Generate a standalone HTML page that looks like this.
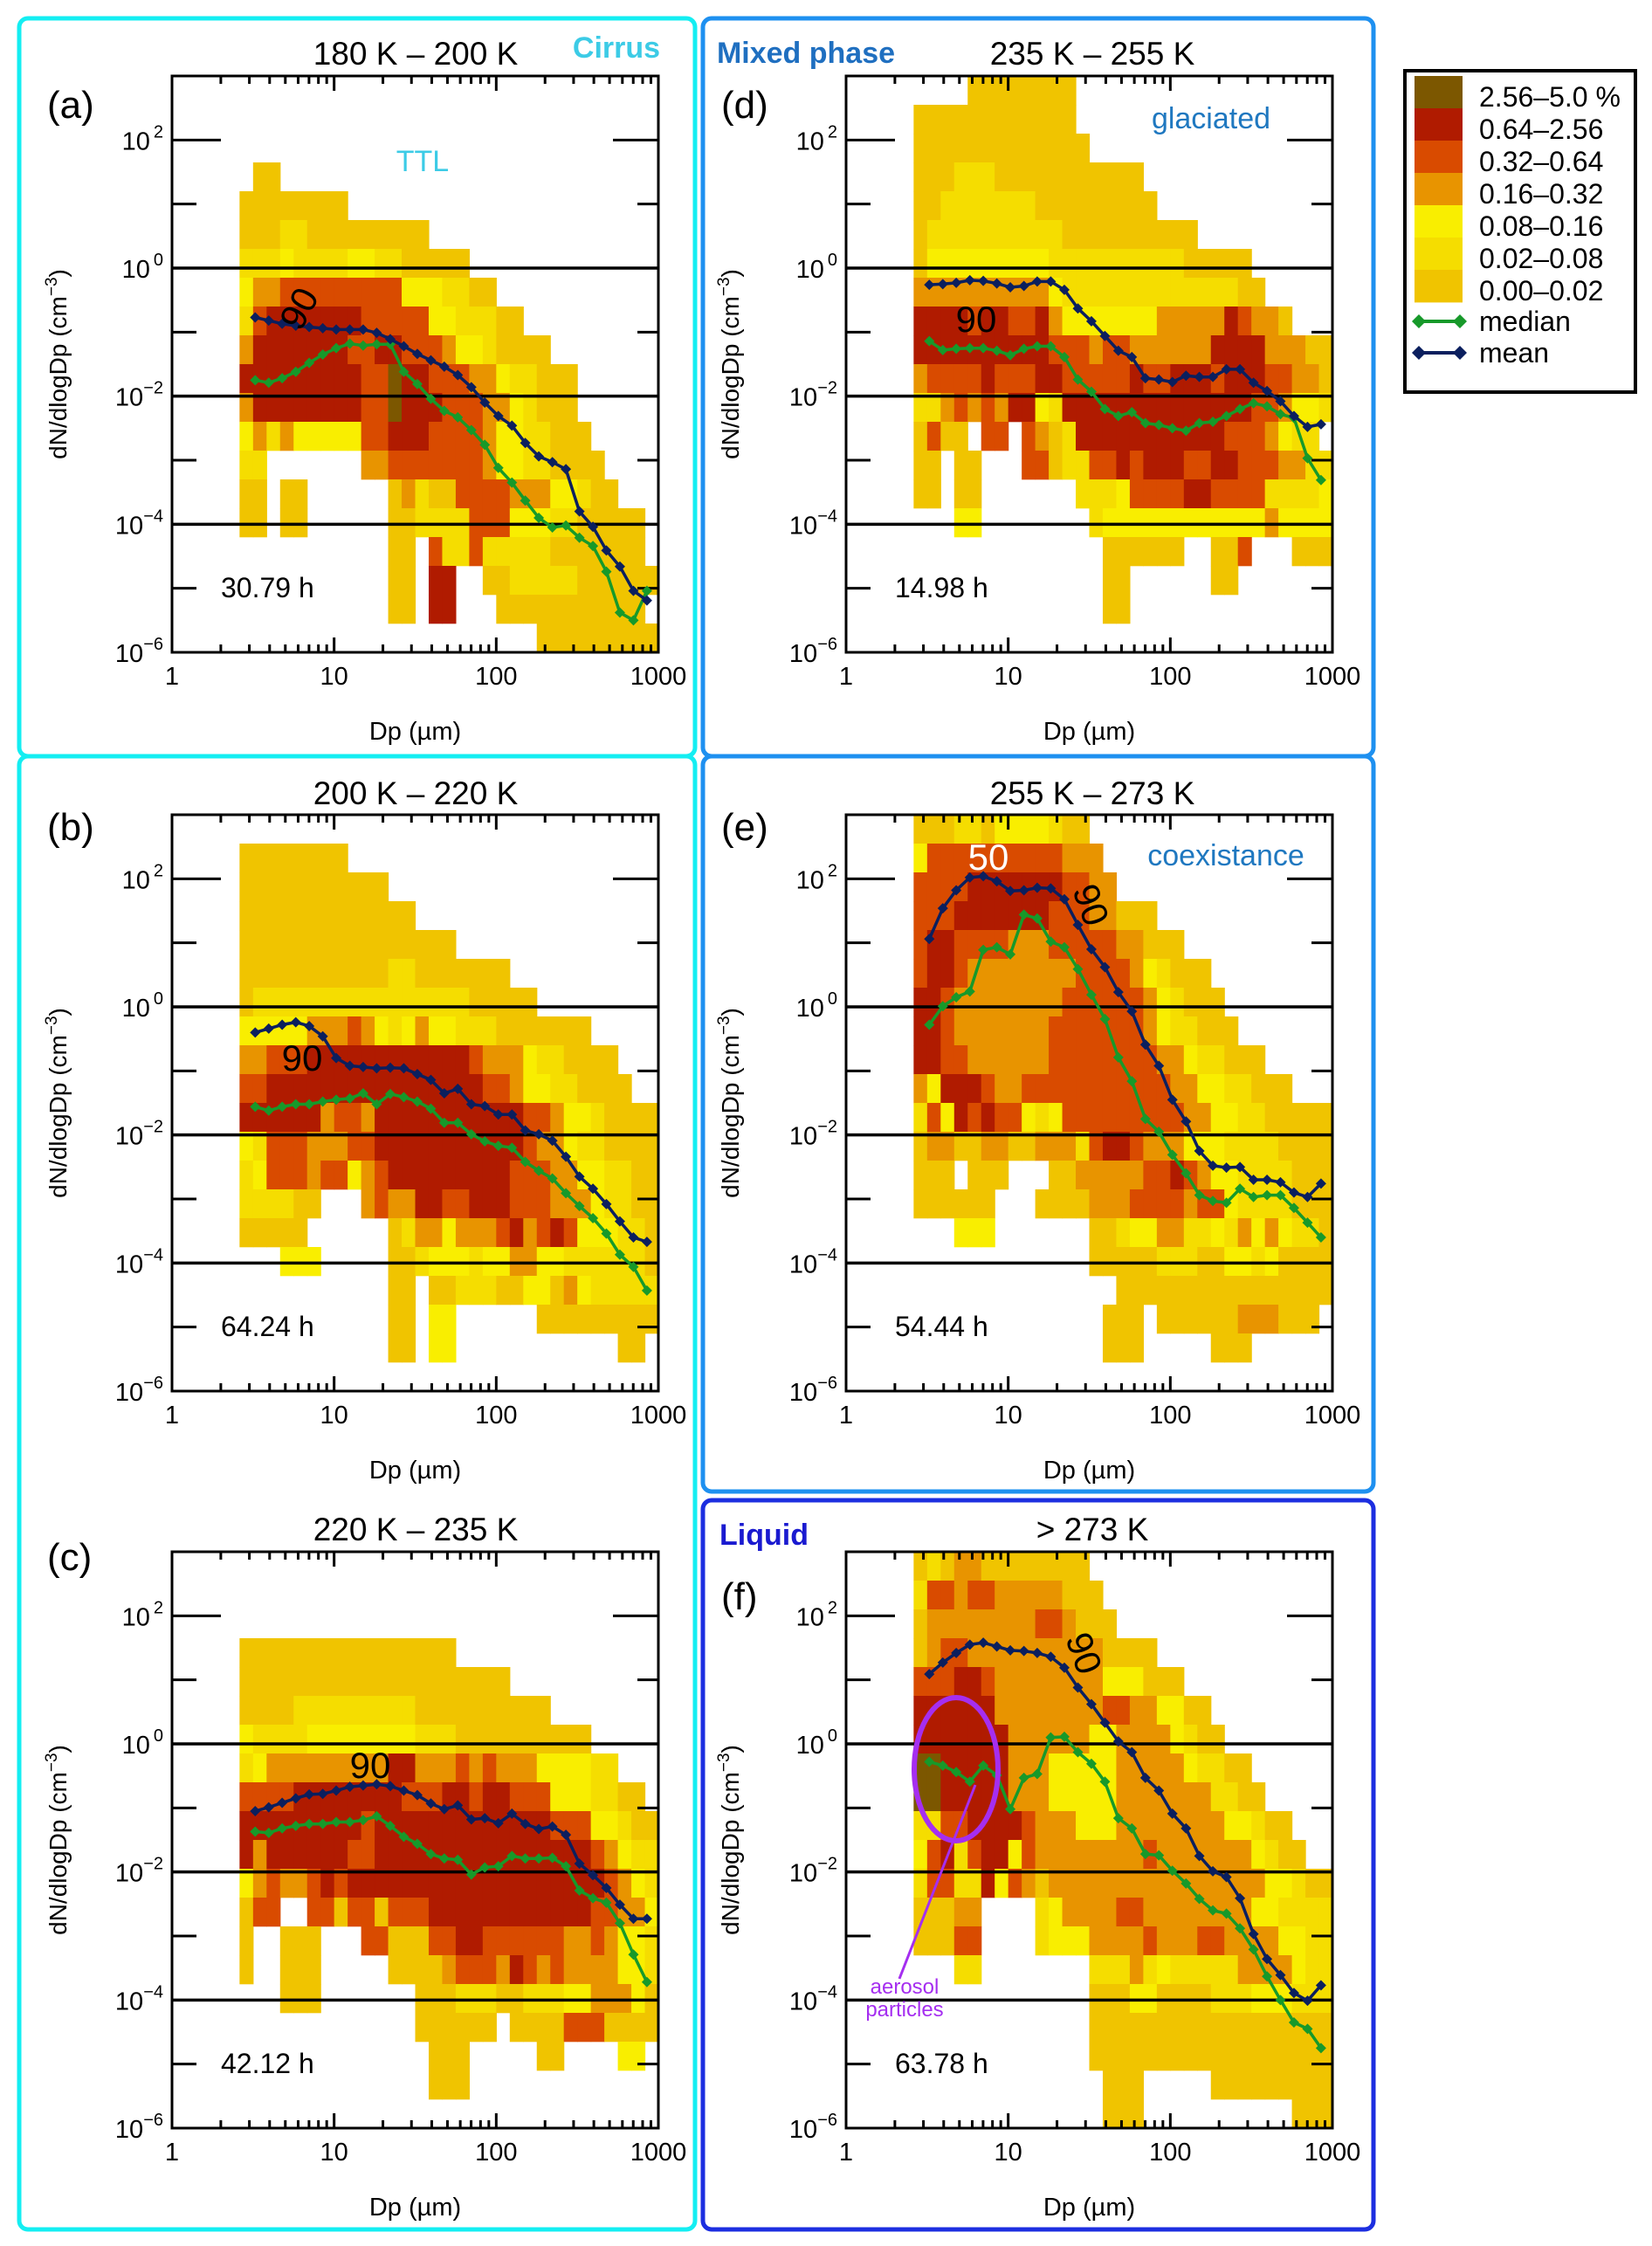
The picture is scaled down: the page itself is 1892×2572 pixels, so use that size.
<!DOCTYPE html>
<html><head><meta charset="utf-8"><style>
html,body{margin:0;padding:0;background:#fff;}
svg{display:block;font-family:"Liberation Sans",sans-serif;}
</style></head><body>
<svg id="fig" xmlns="http://www.w3.org/2000/svg" width="1892" height="2572" viewBox="0 0 1892 2572">
<rect x="0" y="0" width="1892" height="2572" fill="#fff"/>
<rect x="22" y="21" width="774" height="845" rx="10" fill="none" stroke="#14eef2" stroke-width="5"/>
<rect x="22" y="866" width="774" height="1687" rx="10" fill="none" stroke="#14eef2" stroke-width="5"/>
<rect x="805" y="21" width="768" height="845" rx="10" fill="none" stroke="#1e90f0" stroke-width="5"/>
<rect x="805" y="866" width="768" height="842" rx="10" fill="none" stroke="#1e90f0" stroke-width="5"/>
<rect x="805" y="1718" width="768" height="835" rx="10" fill="none" stroke="#1c2ee0" stroke-width="5"/>
<g id="plots"></g>
<g font-size="37" text-anchor="middle" fill="#000">
<text x="476" y="74">180 K – 200 K</text>
<text x="476" y="921">200 K – 220 K</text>
<text x="476" y="1764">220 K – 235 K</text>
<text x="1251" y="74">235 K – 255 K</text>
<text x="1251" y="921">255 K – 273 K</text>
<text x="1251" y="1764">&gt; 273 K</text>
</g>
<text x="706" y="66" font-size="34" font-weight="bold" fill="#3ccbe6" text-anchor="middle">Cirrus</text>
<text x="923" y="72" font-size="34" font-weight="bold" fill="#1f6fc0" text-anchor="middle">Mixed phase</text>
<text x="875" y="1769" font-size="34" font-weight="bold" fill="#1a1ad0" text-anchor="middle">Liquid</text>
<text x="484" y="196" font-size="34" fill="#3ccbe6" text-anchor="middle">TTL</text>
<text x="1387" y="147" font-size="34" fill="#1f78c0" text-anchor="middle">glaciated</text>
<text x="1404" y="991" font-size="34" fill="#1f78c0" text-anchor="middle">coexistance</text>
<g font-size="44" fill="#000">
<text x="54" y="135">(a)</text>
<text x="54" y="962">(b)</text>
<text x="54" y="1798">(c)</text>
<text x="826" y="135">(d)</text>
<text x="826" y="962">(e)</text>
<text x="826" y="1843">(f)</text>
</g>
<g font-size="42" fill="#000">
<text x="342" y="368" transform="rotate(-62 342 353)" text-anchor="middle">90</text>
<text x="346" y="1226" text-anchor="middle">90</text>
<text x="424" y="2036" text-anchor="middle">90</text>
<text x="1118" y="380" text-anchor="middle">90</text>
<text x="1132" y="996" fill="#fff" text-anchor="middle">50</text>
<text x="1250" y="1051" transform="rotate(70 1250 1036)" text-anchor="middle">90</text>
<text x="1242" y="1908" transform="rotate(70 1242 1893)" text-anchor="middle">90</text>
</g>
<ellipse cx="1095" cy="2026" rx="48" ry="82" fill="none" stroke="#a52ef0" stroke-width="6"/>
<line x1="1117" y1="2044" x2="1030" y2="2266" stroke="#a52ef0" stroke-width="3"/>
<text x="1036" y="2283" font-size="24" fill="#a52ef0" text-anchor="middle">aerosol</text>
<text x="1036" y="2309" font-size="24" fill="#a52ef0" text-anchor="middle">particles</text>
<g id="legend">
<rect x="1609" y="81" width="264" height="368" fill="#fff" stroke="#000" stroke-width="4"/>
</g>
</svg>
<script>
// ---------------- DATA ----------------
const heatLabels = ["0.00–0.02","0.02–0.08","0.08–0.16","0.16–0.32","0.32–0.64","0.64–2.56","2.56–5.0 %"];
const heatColors = ["#f0c400","#f5dd00","#f9ee00","#e89400","#d94b00","#b01b00","#7c5700"];
// line points: Dp (um)
const dpPoints = [3.26,3.95,4.78,5.80,7.02,8.51,10.3,12.5,15.1,18.3,22.2,26.9,32.6,39.5,47.8,57.9,70.2,85.0,103,125,151,183,222,269,326,395,478,579,702,850];
// log10 of dN/dlogDp
const meanA = [-0.77,-0.82,-0.87,-0.90,-0.92,-0.94,-0.96,-0.96,-0.96,-1.01,-1.11,-1.22,-1.34,-1.44,-1.54,-1.67,-1.86,-2.10,-2.31,-2.46,-2.73,-2.94,-3.03,-3.14,-3.80,-4.04,-4.41,-4.66,-5.04,-5.19];
const medianA = [-1.75,-1.79,-1.72,-1.62,-1.48,-1.35,-1.25,-1.18,-1.21,-1.19,-1.19,-1.62,-1.81,-2.04,-2.23,-2.33,-2.53,-2.76,-3.12,-3.35,-3.63,-3.90,-4.05,-4.02,-4.21,-4.34,-4.74,-5.38,-5.50,-5.04];
const meanB = [-0.40,-0.34,-0.28,-0.24,-0.30,-0.46,-0.80,-0.92,-0.94,-0.96,-0.95,-0.96,-1.05,-1.14,-1.35,-1.28,-1.52,-1.55,-1.68,-1.68,-1.93,-1.99,-2.09,-2.34,-2.65,-2.84,-3.08,-3.35,-3.60,-3.67];
const medianB = [-1.56,-1.62,-1.56,-1.52,-1.52,-1.48,-1.45,-1.43,-1.35,-1.52,-1.36,-1.41,-1.48,-1.59,-1.81,-1.81,-1.99,-2.10,-2.17,-2.20,-2.42,-2.56,-2.68,-2.91,-3.11,-3.30,-3.54,-3.87,-4.06,-4.43];
const meanC = [-1.05,-0.99,-0.92,-0.85,-0.79,-0.78,-0.73,-0.67,-0.65,-0.63,-0.66,-0.73,-0.80,-0.93,-1.02,-0.96,-1.18,-1.16,-1.24,-1.09,-1.25,-1.33,-1.29,-1.42,-1.87,-2.05,-2.25,-2.51,-2.73,-2.73];
const medianC = [-1.37,-1.39,-1.32,-1.28,-1.25,-1.25,-1.22,-1.22,-1.19,-1.13,-1.28,-1.45,-1.56,-1.72,-1.79,-1.81,-2.04,-1.93,-1.91,-1.75,-1.79,-1.79,-1.78,-1.91,-2.29,-2.41,-2.48,-2.80,-3.29,-3.72];
const meanD = [-0.26,-0.25,-0.23,-0.19,-0.20,-0.24,-0.30,-0.28,-0.21,-0.21,-0.34,-0.63,-0.83,-1.06,-1.29,-1.39,-1.72,-1.74,-1.78,-1.68,-1.70,-1.70,-1.58,-1.58,-1.79,-1.92,-2.08,-2.31,-2.48,-2.44];
const medianD = [-1.14,-1.28,-1.26,-1.25,-1.25,-1.29,-1.36,-1.26,-1.22,-1.22,-1.39,-1.74,-1.93,-2.20,-2.31,-2.25,-2.42,-2.45,-2.50,-2.54,-2.42,-2.40,-2.31,-2.20,-2.11,-2.16,-2.28,-2.34,-2.97,-3.31];
const meanE = [1.06,1.54,1.82,2.02,2.04,1.96,1.81,1.82,1.86,1.85,1.68,1.28,0.90,0.62,0.23,-0.07,-0.59,-0.92,-1.45,-1.79,-2.25,-2.48,-2.51,-2.50,-2.70,-2.70,-2.74,-2.90,-2.97,-2.76];
const medianE = [-0.28,0.01,0.15,0.24,0.89,0.93,0.82,1.44,1.38,1.02,0.93,0.59,0.19,-0.19,-0.79,-1.16,-1.75,-1.95,-2.31,-2.60,-2.94,-3.03,-3.06,-2.84,-2.97,-2.94,-2.94,-3.14,-3.37,-3.60];
const meanF = [1.09,1.27,1.42,1.55,1.58,1.52,1.46,1.45,1.42,1.36,1.19,0.88,0.62,0.33,0.04,-0.13,-0.53,-0.73,-1.09,-1.32,-1.75,-1.99,-2.08,-2.41,-2.97,-3.36,-3.61,-3.89,-4.01,-3.77];
const medianF = [-0.28,-0.34,-0.44,-0.59,-0.34,-0.49,-1.02,-0.53,-0.47,0.10,0.11,-0.13,-0.31,-0.59,-1.16,-1.32,-1.72,-1.74,-1.98,-2.18,-2.42,-2.60,-2.65,-2.88,-3.21,-3.63,-4.00,-4.35,-4.45,-4.75];
// heatmap bins: Dp bins of 1/12 decade starting at 10^(5/12) um; rows of 0.45 decade from 10^3 down
const dpBinFirstLog = 5/12;
const dpBinWidthLog = 1/12;
const nBinTopLog = 3;
const nBinHeightLog = 0.45;
// frequency class per cell (index into heatColors), space = no data
const heatA = ["","",""," 00","00000000","00011000000000","11121111221100000","2334444444442221100","145555555444442211100","35555555445544432210000","5555555554465544433211000","3555555554465554443321000","23132222244555444432211000","11       334444444322110000","00 00      03100444433322100","00 00      0011114442221100000","           00 4114111110000000","           00 55  0011111000000","           00 55   00000000000","                      000000000"];
const heatB = ["","00000000","00000000000","0000000000000","0000000000000000","00000000000110000000","0111111111111111100000","22222333432123221110000000","3344455555555555543332110000","44555555555555555544322110000","5555553443555555555554432210000","2144433344555555555554332110000","1244434423455555555544433221100","111100   3433554455544433321100","00000      01332333453454222110","   222     00122212233221111110","           00 00111002203211111","           00 22      000000000","           00 22            00 ",""];
const heatC = ["","","","0000000000000000","00000000000000000000","00001111111110000000000","21111222222221110000000000","1233333333355333434333222211","444455555555444554554442221100","5555555554555555555555544422100","5355555544555555555555555543211","2343345455555555555555555554321","044  44044044455555555555544332","0  000   4400044554444443343221","0  000     00003444354343333221","   000       000111001112233320","             000000 00004440000","              000     00    22 ","              000              ",""];
const heatD = ["    00000000","000000000000","0000000000000","00011100000000000","001111111000000000","011111111110000000000","0222222222111111111100000","33333333332111111111111100","5555455445322222223333354330","5555555555444344333333555533300","3444454445544444544555455544330","1134343552155555555555555443221","0400 44 4301555555555554443211","00 00   44011445455544554443311","00 00       1112444455444411112","   22        122222222222232222","              000000  004   000","              00      00       ","              00               ",""];
const heatE = ["0001102222100","24444444444333","444455555554433","444555555544433000","45544443334444433000","4554333333334444321000","55433333333444444321000","554333333344444443211000","55443333334444444433211000","3255543344444444444332211000","1425454421244444444433221100000","0330033003331455433322211110000","000 000   003333344543221111000","000000   0000333444434421111000","   222       001223311213232110","             000001110022120000","               0000000000000000","              000 000000333000 ","              000     000      ",""];
const heatF = ["0103300000000","14434433333000","033333333443000","034433333333330000","44455433333333222000","5555553333333344332200","55555553333332233332100","6655555333222223333321100","66555553332222233333331100","1144555543332223333333322100","24514552433333333433333332100","1441152430333333333333333322100","00033    1233334433333333221111","00044    1222333343334433332211","   11        111312111113333211","             000220000111222111","             000000000000000000","             000000000000000000","              000     000000000","              000           000"];
const hoursLabels = ["30.79 h","64.24 h","42.12 h","14.98 h","54.44 h","63.78 h"];
const xTickValues = [1,10,100,1000];
const yLabelExps = [2,0,-2,-4,-6];

// ---------------- LAYOUT ----------------
const PW = 557, PH = 660;
const panels = [
 {id:'a', left:197, top:87, heat:heatA, mean:meanA, median:medianA, ytitleX:76},
 {id:'b', left:197, top:933, heat:heatB, mean:meanB, median:medianB, ytitleX:76},
 {id:'c', left:197, top:1777, heat:heatC, mean:meanC, median:medianC, ytitleX:76},
 {id:'d', left:969, top:87, heat:heatD, mean:meanD, median:medianD, ytitleX:846},
 {id:'e', left:969, top:933, heat:heatE, mean:meanE, median:medianE, ytitleX:846},
 {id:'f', left:969, top:1777, heat:heatF, mean:meanF, median:medianF, ytitleX:846}
];
const NS = 'http://www.w3.org/2000/svg';
function mk(tag, attrs, parent){
  const el = document.createElementNS(NS, tag);
  for (const k in attrs) el.setAttribute(k, attrs[k]);
  parent.appendChild(el);
  return el;
}
const root = document.getElementById('plots');

panels.forEach(function(p, pi){
  const xs = function(logd){ return p.left + logd * PW / 3; };
  const ys = function(logn){ return p.top + (3 - logn) * PH / 9; };
  const g = mk('g', {}, root);
  
  

  const hg = mk('g', {}, g);
  
  
  p.heat.forEach(function(row, r){
    for (let c = 0; c < row.length; c++){
      const ch = row[c];
      if (ch === ' ') continue;
      const cls = parseInt(ch, 10);
      const x0 = xs(dpBinFirstLog + c * dpBinWidthLog);
      const x1 = xs(dpBinFirstLog + (c + 1) * dpBinWidthLog);
      const y0 = ys(nBinTopLog - r * nBinHeightLog);
      const y1 = ys(nBinTopLog - (r + 1) * nBinHeightLog);
      const cell = mk('rect', {x:x0.toFixed(2), y:y0.toFixed(2), width:(x1-x0+0.6).toFixed(2), height:(y1-y0+0.3).toFixed(2), fill:heatColors[cls]}, hg);
      
      
    }
  });

  [0,-2,-4].forEach(function(e){
    const ln = mk('line', {x1:p.left, x2:p.left+PW, y1:ys(e), y2:ys(e), stroke:'#000', 'stroke-width':3.5}, g);
    
    
  });

  for (let e = -5; e <= 2; e++){
    if (e === 0 || e === -2 || e === -4) continue;
    const even = (e % 2 === 0);
    const lenL = even ? 56 : 28, lenR = even ? 52 : 24;
    const t1 = mk('line', {x1:p.left, x2:p.left+lenL, y1:ys(e), y2:ys(e), stroke:'#000', 'stroke-width':3}, g);
    
    
    const t2 = mk('line', {x1:p.left+PW-lenR, x2:p.left+PW, y1:ys(e), y2:ys(e), stroke:'#000', 'stroke-width':3}, g);
    
    
  }
  yLabelExps.forEach(function(e){
    const t = mk('text', {x:p.left-10, y:ys(e)+11, 'font-size':29, 'text-anchor':'end', fill:'#000'}, g);
    
    
    const a = mk('tspan', {}, t); a.textContent = '10';
    const b = mk('tspan', {dy:-14, 'font-size':20}, t); b.textContent = (e > 0 ? '\u2009' + e : (e === 0 ? '\u20090' : '\u2212' + (-e)));
  });
  for (let d = 0; d < 3; d++){
    for (let m = 1; m <= 9; m++){
      if (d === 0 && m === 1) continue;
      const lx = xs(d + Math.log10(m));
      const len = (m === 1) ? 17 : 9;
      const tb = mk('line', {x1:lx, x2:lx, y1:p.top+PH, y2:p.top+PH-len, stroke:'#000', 'stroke-width':3}, g);
      
      
      const tt = mk('line', {x1:lx, x2:lx, y1:p.top, y2:p.top+len, stroke:'#000', 'stroke-width':3}, g);
      
      
    }
  }
  xTickValues.forEach(function(v){
    const t = mk('text', {x:xs(Math.log10(v)), y:p.top+PH+37, 'font-size':29, 'text-anchor':'middle', fill:'#000'}, g);
    
    
    t.textContent = String(v);
  });
  const fr = mk('rect', {x:p.left, y:p.top, width:PW, height:PH, fill:'none', stroke:'#000', 'stroke-width':3}, g);
  
  
  const xt = mk('text', {x:p.left+PW/2, y:p.top+PH+100, 'font-size':29, 'text-anchor':'middle', fill:'#000'}, g);
  
  
  xt.textContent = 'Dp (\u00b5m)';
  const cy = p.top + PH/2;
  const yt = mk('text', {x:p.ytitleX, y:cy, 'font-size':28, 'text-anchor':'middle', fill:'#000', transform:'rotate(-90 '+p.ytitleX+' '+cy+')'}, g);
  
  
  const y1 = mk('tspan', {}, yt); y1.textContent = 'dN/dlogDp (cm';
  const y2 = mk('tspan', {dy:-11, 'font-size':19}, yt); y2.textContent = '\u22123';
  const y3 = mk('tspan', {dy:11}, yt); y3.textContent = ')';
  const hr = mk('text', {x:p.left+56, y:p.top+597, 'font-size':32, fill:'#000'}, g);
  
  
  hr.textContent = hoursLabels[pi];

  [['median', p.median, '#17992a'], ['mean', p.mean, '#0b1f5e']].forEach(function(s){
    const pts = s[1].map(function(v, i){ return [xs(Math.log10(dpPoints[i])), ys(v)]; });
    const pl = mk('polyline', {points:pts.map(function(q){return q[0].toFixed(1)+','+q[1].toFixed(1);}).join(' '), fill:'none', stroke:s[2], 'stroke-width':3.5}, g);
    
    
    pts.forEach(function(q){
      const dm = mk('polygon', {points:(q[0]-6)+','+q[1]+' '+q[0]+','+(q[1]-6)+' '+(q[0]+6)+','+q[1]+' '+q[0]+','+(q[1]+6), fill:s[2]}, g);
      
      
    });
  });
});

// legend
const lg = document.getElementById('legend');
for (let i = 0; i < 7; i++){
  const cls = 6 - i;
  const yy = 87 + i * 37;
  const sw = mk('rect', {x:1620, y:yy, width:55, height:37.4, fill:heatColors[cls]}, lg);
  
  
  const tx = mk('text', {x:1694, y:yy+35, 'font-size':32, fill:'#000'}, lg);
  
  
  tx.textContent = heatLabels[cls];
}
[['median','#17992a',368],['mean','#0b1f5e',404]].forEach(function(s){
  const ln = mk('line', {x1:1625, x2:1672, y1:s[2], y2:s[2], stroke:s[1], 'stroke-width':4}, lg);
  
  
  [1625,1672].forEach(function(cx){
    const d = mk('polygon', {points:(cx-8)+','+s[2]+' '+cx+','+(s[2]-8)+' '+(cx+8)+','+s[2]+' '+cx+','+(s[2]+8), fill:s[1]}, lg);
    
    
  });
  const t = mk('text', {x:1694, y:s[2]+11, 'font-size':32, fill:'#000'}, lg);
  
  
  t.textContent = s[0];
});
</script>
</body></html>
